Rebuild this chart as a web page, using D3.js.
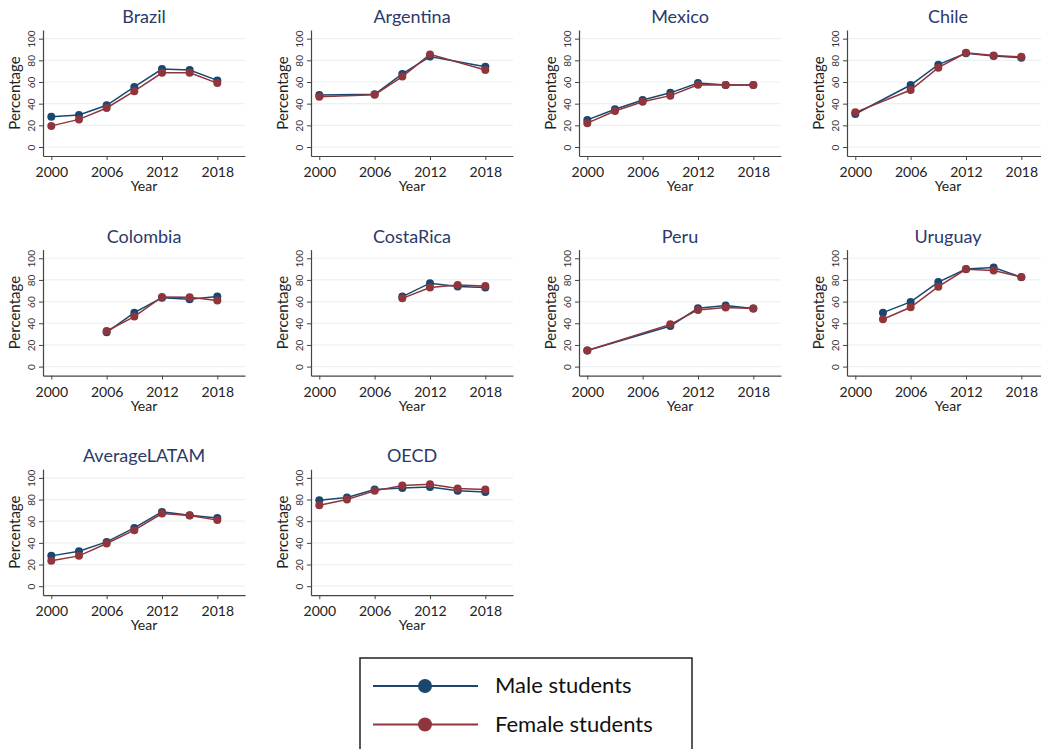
<!DOCTYPE html>
<html><head><meta charset="utf-8">
<script src="https://cdn.jsdelivr.net/npm/d3@7"></script>
<style>body{margin:0;background:#fff}svg{display:block}</style></head>
<body><svg id="c" width="1041" height="749"></svg>
<script>
const years = [2000, 2003, 2006, 2009, 2012, 2015, 2018];
const countries = ["Brazil","Argentina","Mexico","Chile","Colombia","CostaRica","Peru","Uruguay","AverageLATAM","OECD"];
const maleBrazil   = [28, 29.5, 38.5, 55.5, 72, 71, 61.5];
const femaleBrazil = [19.5, 25.5, 36, 51.5, 68.5, 68.5, 59];
const maleArgentina   = [48, null, 48.6, 67.5, 83.5, null, 74];
const femaleArgentina = [46.5, null, 48.3, 65, 85.5, null, 71];
const maleMexico   = [25, 34.8, 43.4, 50, 59, 57.2, 57.2];
const femaleMexico = [22, 33.2, 41.8, 47.4, 57.5, 57.2, 57.2];
const maleChile   = [30.5, null, 57.2, 76, 86.5, 84, 82.5];
const femaleChile = [32, null, 52.6, 73.2, 87, 84.5, 83.2];
const maleColombia   = [null, null, 31.7, 49.8, 63.5, 62.2, 64.6];
const femaleColombia = [null, null, 32.9, 46.2, 64.3, 64, 61];
const maleCostaRica   = [null, null, null, 64.6, 77, 74, 73];
const femaleCostaRica = [null, null, null, 63, 73, 75.4, 74.3];
const malePeru   = [14.8, null, null, 37.5, 53.8, 56.3, 53.6];
const femalePeru = [14.8, null, null, 39, 52.3, 54.5, 53.6];
const maleUruguay   = [null, 49.8, 59.7, 78, 90, 91.4, 82.5];
const femaleUruguay = [null, 43.7, 54.8, 73.8, 89.8, 88.6, 82.8];
const maleLatam   = [28, 32.3, 40.9, 53.8, 68.6, 65.5, 63];
const femaleLatam = [23.4, 28, 39.4, 51.7, 67, 65.2, 61];
const maleOECD   = [79.4, 81.8, 89.2, 90.6, 91.5, 88, 87];
const femaleOECD = [74.8, 80, 88, 93, 94, 90.2, 89.2];
const maleValues = [maleBrazil, maleArgentina, maleMexico, maleChile, maleColombia, maleCostaRica, malePeru, maleUruguay, maleLatam, maleOECD];
const femaleValues = [femaleBrazil, femaleArgentina, femaleMexico, femaleChile, femaleColombia, femaleCostaRica, femalePeru, femaleUruguay, femaleLatam, femaleOECD];
const xTicks = [2000, 2006, 2012, 2018];
const yTicks = [0, 20, 40, 60, 80, 100];
const seriesNames = ["Male students", "Female students"];
const seriesColors = ["#1a476f", "#90353b"];

const FONT = "Lato, 'Open Sans', sans-serif";
const svg = d3.select("#c");
const x = d3.scaleLinear().domain([1999.1, 2021]).range([0, 202]);
const y = d3.scaleLinear().domain([-8.3, 108]).range([156, 30]);

countries.forEach((name, i) => {
  const col = i % 4, row = Math.floor(i / 4);
  const g = svg.append("g").attr("transform", `translate(${43 + col * 268},${row * 219.6})`);
  g.selectAll("line.grid").data(yTicks).join("line")
    .attr("x1", 0).attr("x2", 202).attr("y1", d => y(d)).attr("y2", d => y(d))
    .attr("stroke", "#eaf2f3").attr("stroke-width", 1.2);
  const ya = g.append("g").call(d3.axisLeft(y).tickValues(yTicks).tickSize(4).tickSizeOuter(0));
  ya.selectAll("text").attr("x", 0).attr("y", -8).attr("dy", 0)
    .attr("text-anchor", "middle").attr("transform", "rotate(-90)")
    .style("font-family", FONT).style("font-size", "10px").attr("fill", "#333");
  const xa = g.append("g").attr("transform", "translate(0,156)")
    .call(d3.axisBottom(x).tickValues(xTicks).tickFormat(d3.format("d")).tickSize(4).tickSizeOuter(0));
  xa.selectAll("text").attr("y", 11).attr("dy", "0.71em")
    .style("font-family", FONT).style("font-size", "14px").attr("fill", "#222");
  [ya, xa].forEach(a => { a.select(".domain").attr("stroke", "#444").attr("stroke-width", 1.2); a.selectAll(".tick line").attr("stroke", "#444"); });
  g.append("text").attr("x", 101).attr("y", 23).attr("text-anchor", "middle")
    .style("font-family", FONT).style("font-size", "18px").attr("fill", "#2b3a6b").text(name);
  g.append("text").attr("x", 101).attr("y", 191).attr("text-anchor", "middle")
    .style("font-family", FONT).style("font-size", "14px").attr("fill", "#222").text("Year");
  g.append("text").attr("transform", "translate(-23,93) rotate(-90)").attr("text-anchor", "middle")
    .style("font-family", FONT).style("font-size", "15px").attr("fill", "#222").text("Percentage");
  [maleValues[i], femaleValues[i]].forEach((vals, s) => {
    const pts = years.map((yr, k) => ({yr, v: vals[k]})).filter(d => d.v != null);
    g.append("path").datum(pts)
      .attr("d", d3.line().x(d => x(d.yr)).y(d => y(d.v)))
      .attr("fill", "none").attr("stroke", seriesColors[s]).attr("stroke-width", 1.5);
    g.selectAll(null).data(pts).join("circle")
      .attr("cx", d => x(d.yr)).attr("cy", d => y(d.v)).attr("r", 4)
      .attr("fill", seriesColors[s]);
  });
});

const lg = svg.append("g");
lg.append("rect").attr("x", 360).attr("y", 658).attr("width", 332).attr("height", 100)
  .attr("fill", "#fff").attr("stroke", "#222").attr("stroke-width", 1.5);
seriesNames.forEach((nm, s) => {
  const yy = 686 + s * 38.5;
  lg.append("line").attr("x1", 373).attr("x2", 478).attr("y1", yy).attr("y2", yy)
    .attr("stroke", seriesColors[s]).attr("stroke-width", 2);
  lg.append("circle").attr("cx", 425).attr("cy", yy).attr("r", 7).attr("fill", seriesColors[s]);
  lg.append("text").attr("x", 495).attr("y", yy + 7)
    .style("font-family", FONT).style("font-size", "22px").attr("fill", "#111").text(nm);
});
</script></body></html>
